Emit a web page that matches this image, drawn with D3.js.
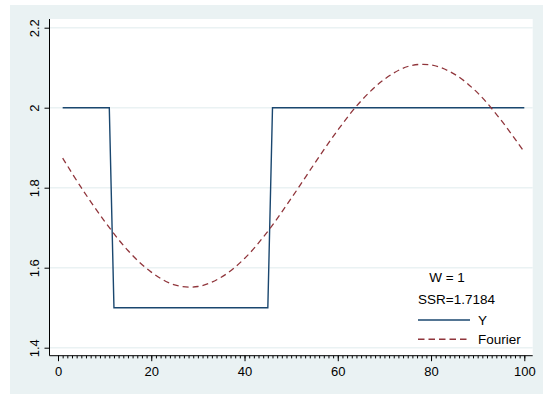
<!DOCTYPE html>
<html>
<head>
<meta charset="utf-8">
<script src="https://cdn.jsdelivr.net/npm/d3@7"></script>
<style>
  body { margin: 0; background: #fff; }
  text { font-family: "Liberation Sans", Arial, sans-serif; fill: #000; }
</style>
</head>
<body>
<div id="graph"></div>
<script>
// step series Y (breakpoints of the step line)
const yX = [1, 11, 12, 45, 46, 100]
const yVals = [2, 2, 1.5, 1.5, 2, 2]

// fitted Fourier curve
const fourierX = [1, 5, 10, 15, 20, 25, 30, 35, 40, 45, 50, 55, 60, 65, 70, 75, 80, 85, 90, 95, 100]
const fourierVals = [1.874, 1.800, 1.716, 1.643, 1.589, 1.557, 1.553, 1.576, 1.623, 1.691, 1.773,
  1.860, 1.944, 2.017, 2.071, 2.103, 2.107, 2.084, 2.037, 1.969, 1.889]

const xTicks = [0, 20, 40, 60, 80, 100]
const yTicks = [1.4, 1.6, 1.8, 2, 2.2]
const legendNotes = ['W = 1', 'SSR=1.7184']
const seriesNames = ['Y', 'Fourier']

const W = 543, H = 394
const plot = { left: 49.5, top: 19, right: 532.7, bottom: 355.7 }
const bg = '#eaf2f3'
const navy = '#1a476f'
const maroon = '#90353b'

const svg = d3.select('#graph').append('svg')
  .attr('width', W)
  .attr('height', H)

svg.append('rect')
  .attr('x', 10).attr('y', 5)
  .attr('width', W - 10).attr('height', H - 5)
  .attr('fill', bg)

svg.append('rect')
  .attr('x', plot.left).attr('y', plot.top)
  .attr('width', plot.right - plot.left).attr('height', plot.bottom - plot.top)
  .attr('fill', '#fff')

const x = d3.scaleLinear([0, 100], [58, 524.3])
const y = d3.scaleLinear([1.4, 2.2], [347.7, 27.7])

// gridlines
svg.append('g')
  .selectAll('line')
  .data(yTicks)
  .enter()
  .append('line')
  .attr('x1', plot.left)
  .attr('x2', plot.right)
  .attr('y1', d => y(d))
  .attr('y2', d => y(d))
  .attr('stroke', bg)
  .attr('stroke-width', 1.5)

// y axis
const yAxis = svg.append('g')
  .attr('transform', `translate(${plot.left}, 0)`)
  .call(d3.axisLeft(y).tickValues(yTicks).tickSize(5).tickSizeOuter(0).tickFormat(d3.format('')))
yAxis.select('.domain').remove()
yAxis.append('line')
  .attr('x1', 0).attr('x2', 0)
  .attr('y1', plot.top).attr('y2', plot.bottom)
  .attr('stroke', '#000')
yAxis.selectAll('.tick text')
  .attr('x', null).attr('dy', null)
  .attr('text-anchor', 'middle')
  .attr('transform', 'translate(-11, 0) rotate(-90)')
  .style('font-size', '13px')
  .style('font-family', '"Liberation Sans", Arial, sans-serif')

// x axis: minor ticks every 1, major every 20
const xAxisG = svg.append('g')
  .attr('transform', `translate(0, ${plot.bottom})`)
xAxisG.append('g')
  .call(d3.axisBottom(x).tickValues(d3.range(0, 101)).tickSize(2.7).tickFormat(''))
  .call(g => g.select('.domain').remove())
const xMajor = xAxisG.append('g')
  .call(d3.axisBottom(x).tickValues(xTicks).tickSize(5.5).tickSizeOuter(0))
xMajor.select('.domain').remove()
xMajor.selectAll('.tick text')
  .attr('y', 11)
  .style('font-size', '13px')
  .style('font-family', '"Liberation Sans", Arial, sans-serif')
xAxisG.append('line')
  .attr('x1', plot.left).attr('x2', plot.right)
  .attr('y1', 0).attr('y2', 0)
  .attr('stroke', '#000')

// series
const yData = yX.map((d, i) => ({ x: d, y: yVals[i] }))
const fData = fourierX.map((d, i) => ({ x: d, y: fourierVals[i] }))

svg.append('path')
  .datum(yData)
  .attr('fill', 'none')
  .attr('stroke', navy)
  .attr('stroke-width', 1.4)
  .attr('d', d3.line().x(d => x(d.x)).y(d => y(d.y)))

svg.append('path')
  .datum(fData)
  .attr('fill', 'none')
  .attr('stroke', maroon)
  .attr('stroke-width', 1.3)
  .attr('stroke-dasharray', '6,4')
  .attr('d', d3.line().curve(d3.curveCatmullRom).x(d => x(d.x)).y(d => y(d.y)))

// legend
const legend = svg.append('g')
legend.append('text')
  .attr('x', 447).attr('y', 282)
  .attr('text-anchor', 'middle')
  .style('font-size', '13.5px')
  .text(legendNotes[0])
legend.append('text')
  .attr('x', 418).attr('y', 304)
  .style('font-size', '13.5px')
  .text(legendNotes[1])

const keys = legend.selectAll('g.key')
  .data(seriesNames)
  .enter()
  .append('g')
  .attr('transform', (d, i) => `translate(418, ${320 + i * 19.3})`)
keys.append('line')
  .attr('x1', 0).attr('x2', 52)
  .attr('stroke', (d, i) => i === 0 ? navy : maroon)
  .attr('stroke-width', 1.4)
  .attr('stroke-dasharray', (d, i) => i === 0 ? null : '6.5,4')
keys.append('text')
  .attr('x', 60).attr('y', 5)
  .style('font-size', '13.5px')
  .text(d => d)
</script>
</body>
</html>
